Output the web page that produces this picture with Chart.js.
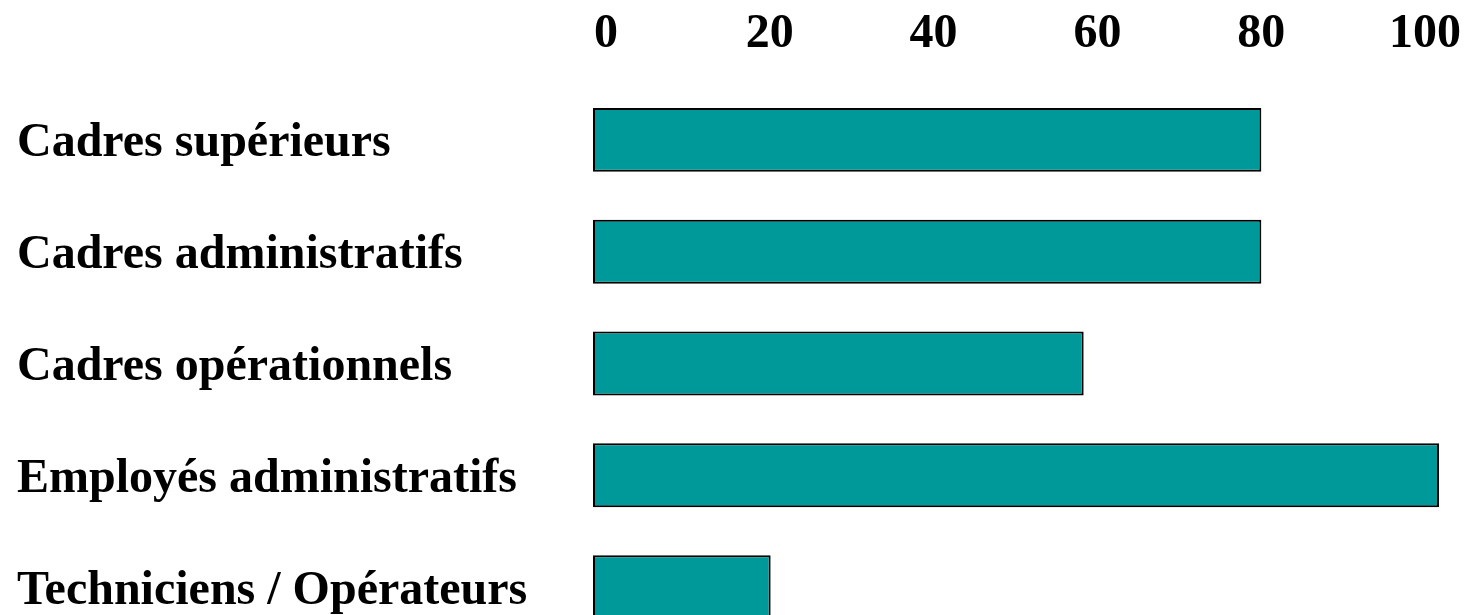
<!DOCTYPE html>
<html>
<head>
<meta charset="utf-8">
<script src="https://cdn.jsdelivr.net/npm/chart.js@4"></script>
<style>
  html, body { margin: 0; padding: 0; background: #ffffff; overflow: hidden; }
  #wrap { width: 1468px; height: 645px; }
</style>
</head>
<body>
<div id="wrap"><canvas id="c" width="1468" height="645"></canvas></div>
<script>
const categories = [
  "Cadres supérieurs",
  "Cadres administratifs",
  "Cadres opérationnels",
  "Employés administratifs",
  "Techniciens / Opérateurs"
];
const values = [79, 79, 58, 100, 21];
const tickValues = [0, 20, 40, 60, 80, 100];

const FONT = { family: "'Liberation Serif', 'Times New Roman', serif", size: 48, weight: 'bold' };

new Chart(document.getElementById('c'), {
  type: 'bar',
  data: {
    labels: categories,
    datasets: [{
      data: values,
      xAxisID: 'x',
      backgroundColor: '#009999',
      borderColor: '#000000',
      borderWidth: 2,
      borderSkipped: false,
      barPercentage: 0.572,
      categoryPercentage: 1.0
    }]
  },
  options: {
    indexAxis: 'y',
    responsive: false,
    animation: false,
    events: [],
    layout: { padding: { left: 17, top: 0, right: 29, bottom: 2 } },
    plugins: { legend: { display: false }, tooltip: { enabled: false } },
    scales: {
      x: {
        type: 'linear',
        display: false,
        min: 0,
        max: 100
      },
      xLabels: {
        type: 'linear',
        axis: 'x',
        position: 'top',
        min: -1.59,
        max: 101.71,
        afterBuildTicks: (scale) => { scale.ticks = tickValues.map(v => ({ value: v })); },
        afterFit: (scale) => { scale.height = 84; scale.paddingLeft = 0; scale.paddingRight = 0; },
        grid: { display: false, drawTicks: false },
        border: { display: false },
        ticks: { color: '#000000', font: FONT, padding: 21, maxRotation: 0, autoSkip: false }
      },
      y: {
        afterFit: (scale) => { scale.width = 576; scale.paddingTop = 0; scale.paddingBottom = 0; },
        grid: { display: false, drawTicks: false },
        border: { display: false },
        ticks: { color: '#000000', font: FONT, crossAlign: 'far', padding: 0, labelOffset: 4 }
      }
    }
  }
});
</script>
</body>
</html>
